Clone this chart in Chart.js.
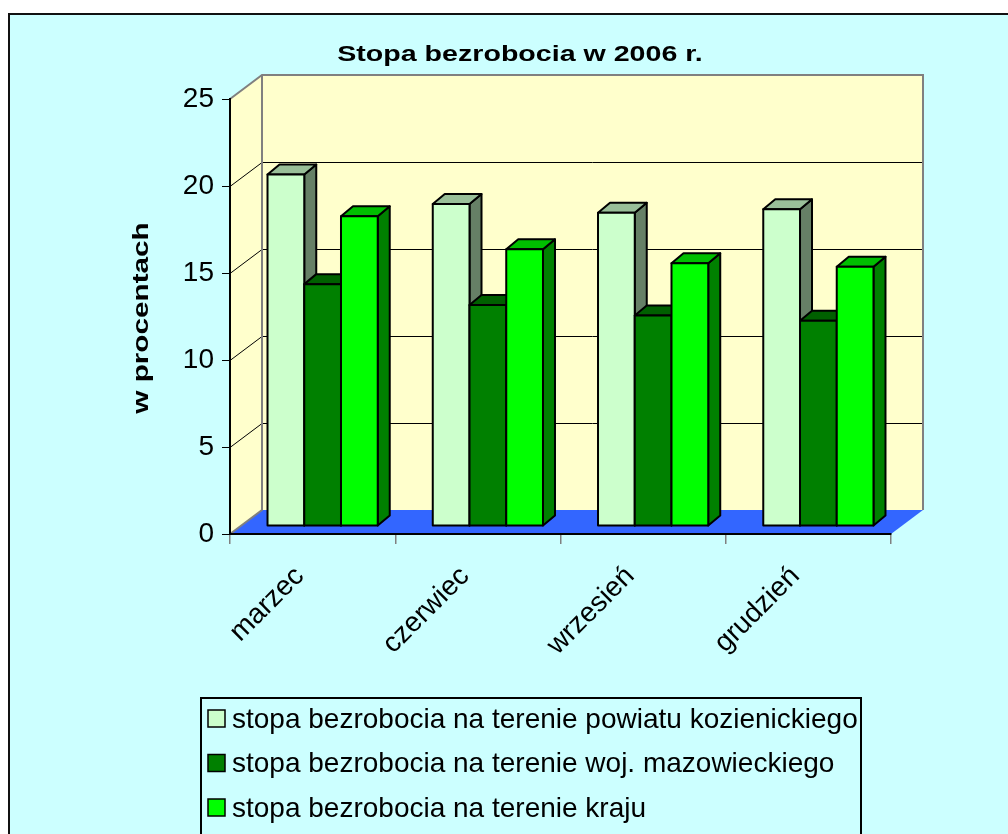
<!DOCTYPE html>
<html>
<head>
<meta charset="utf-8">
<script src="https://cdn.jsdelivr.net/npm/chart.js@4.4.1/dist/chart.umd.min.js"></script>
<style>
  html, body { margin: 0; padding: 0; background: #fff; }
  canvas { display: block; }
</style>
</head>
<body>
<canvas id="chart" width="1008" height="834"></canvas>
<script>
// data
const months = ['marzec', 'czerwiec', 'wrzesień', 'grudzień']
const powiat = [20.2, 18.5, 18.0, 18.2]
const wojewodztwo = [13.9, 12.7, 12.1, 11.8]
const kraj = [17.8, 15.9, 15.1, 14.9]
const yTicks = [0, 5, 10, 15, 20, 25]
const seriesNames = [
  'stopa bezrobocia na terenie powiatu kozienickiego',
  'stopa bezrobocia na terenie woj. mazowieckiego',
  'stopa bezrobocia na terenie kraju',
]
const seriesColors = ['#CCFFCC', '#008000', '#00FF00']
const chartTitle = 'Stopa bezrobocia w 2006 r.'
const yTitle = 'w procentach'

const FONT = '"Liberation Sans", Arial, sans-serif'

// 3d look
const DEPTH = { x: 32, y: -24 }      // floor / wall depth
const BAR_OFF = { x: 10, y: -8 }     // where the bar fronts sit
const BAR_DEPTH = { x: 12, y: -10 }  // bar thickness

const shade = (hex, f) => {
  const n = parseInt(hex.slice(1), 16)
  const r = Math.round(((n >> 16) & 255) * f)
  const g = Math.round(((n >> 8) & 255) * f)
  const b = Math.round((n & 255) * f)
  return `rgb(${r},${g},${b})`
}

const poly = (ctx, pts) => {
  ctx.beginPath()
  ctx.moveTo(pts[0][0], pts[0][1])
  for (let i = 1; i < pts.length; i++) ctx.lineTo(pts[i][0], pts[i][1])
  ctx.closePath()
}

// bold texts in the original are drawn a bit wider than normal
const wideText = (ctx, text, x, y, rot, stretch) => {
  ctx.save()
  ctx.translate(x, y)
  ctx.rotate(rot)
  ctx.scale(stretch, 1)
  ctx.fillText(text, 0, 0)
  ctx.restore()
}

const scene3d = {
  id: 'scene3d',
  beforeDraw(chart) {
    const ctx = chart.ctx
    const { left, right, top, bottom } = chart.chartArea
    const dx = DEPTH.x, dy = DEPTH.y
    ctx.save()
    // page + chart frame
    ctx.fillStyle = '#ffffff'
    ctx.fillRect(0, 0, chart.width, chart.height)
    ctx.fillStyle = '#CCFFFF'
    ctx.fillRect(8, 13, chart.width, chart.height)
    ctx.strokeStyle = '#111'
    ctx.lineWidth = 2
    ctx.beginPath()
    ctx.moveTo(9, chart.height)
    ctx.lineTo(9, 14)
    ctx.lineTo(chart.width, 14)
    ctx.stroke()

    // walls
    ctx.fillStyle = '#FFFFCC'
    ctx.fillRect(left + dx, top + dy, right - left, bottom - top)
    poly(ctx, [[left, top], [left + dx, top + dy], [left + dx, bottom + dy], [left, bottom]])
    ctx.fill()

    // gridlines on the walls
    const ys = chart.scales.y
    ctx.strokeStyle = '#000'
    ctx.lineWidth = 1
    yTicks.forEach(v => {
      if (v === yTicks[0] || v === yTicks[yTicks.length - 1]) return
      const py = Math.round(ys.getPixelForValue(v)) + 0.5
      ctx.beginPath()
      ctx.moveTo(left, py)
      ctx.lineTo(left + dx, py + dy)
      ctx.lineTo(right + dx, py + dy)
      ctx.stroke()
    })

    // floor
    ctx.fillStyle = '#3366FF'
    poly(ctx, [[left, bottom], [right, bottom], [right + dx, bottom + dy], [left + dx, bottom + dy]])
    ctx.fill()

    // wall edges
    ctx.strokeStyle = '#808080'
    ctx.lineWidth = 2
    ctx.beginPath()
    ctx.moveTo(left, top)
    ctx.lineTo(left + dx, top + dy)
    ctx.lineTo(right + dx, top + dy)
    ctx.lineTo(right + dx, bottom + dy)
    ctx.moveTo(left + dx, top + dy)
    ctx.lineTo(left + dx, bottom + dy)
    ctx.lineTo(left, bottom)
    ctx.stroke()
    ctx.restore()
  },
  beforeDatasetsDraw(chart) {
    const ctx = chart.ctx
    const bx = BAR_DEPTH.x, by = BAR_DEPTH.y
    ctx.save()
    ctx.strokeStyle = '#000'
    ctx.lineWidth = 2
    ctx.lineJoin = 'round'
    for (let i = 0; i < months.length; i++) {
      chart.data.datasets.forEach((ds, d) => {
        const el = chart.getDatasetMeta(d).data[i]
        const p = el.getProps(['x', 'y', 'base', 'width'], true)
        const l = p.x - p.width / 2 + BAR_OFF.x
        const r = l + p.width
        const t = p.y + BAR_OFF.y
        const b = p.base + BAR_OFF.y
        const col = seriesColors[d]
        // side
        poly(ctx, [[r, t], [r + bx, t + by], [r + bx, b + by], [r, b]])
        ctx.fillStyle = shade(col, 0.5)
        ctx.fill(); ctx.stroke()
        // top
        poly(ctx, [[l, t], [l + bx, t + by], [r + bx, t + by], [r, t]])
        ctx.fillStyle = shade(col, 0.75)
        ctx.fill(); ctx.stroke()
        // front
        ctx.fillStyle = col
        ctx.fillRect(l, t, p.width, b - t)
        ctx.strokeRect(l, t, p.width, b - t)
      })
    }
    ctx.restore()
    return false
  },
  afterDraw(chart) {
    const ctx = chart.ctx
    ctx.save()
    ctx.fillStyle = '#000'
    ctx.textAlign = 'center'
    ctx.textBaseline = 'middle'
    // title
    ctx.font = `bold 22px ${FONT}`
    wideText(ctx, chartTitle, 520, 55, 0, 1.3)
    // y title
    wideText(ctx, yTitle, 142, 318, -Math.PI / 2, 1.35)

    // legend
    ctx.strokeStyle = '#000'
    ctx.lineWidth = 2
    ctx.beginPath()
    ctx.moveTo(201, chart.height + 5)
    ctx.lineTo(201, 698)
    ctx.lineTo(861, 698)
    ctx.lineTo(861, chart.height + 5)
    ctx.stroke()
    ctx.font = `28px ${FONT}`
    ctx.textAlign = 'left'
    seriesNames.forEach((name, k) => {
      const cy = 719 + k * 44.5
      ctx.fillStyle = seriesColors[k]
      ctx.fillRect(208, cy - 9, 17, 17)
      ctx.lineWidth = 1.5
      ctx.strokeRect(208, cy - 9, 17, 17)
      ctx.fillStyle = '#000'
      ctx.fillText(name, 232, cy + 1)
    })
    ctx.restore()
  },
}

new Chart(document.getElementById('chart'), {
  type: 'bar',
  data: {
    labels: months,
    datasets: [
      { label: seriesNames[0], data: powiat, backgroundColor: seriesColors[0] },
      { label: seriesNames[1], data: wojewodztwo, backgroundColor: seriesColors[1] },
      { label: seriesNames[2], data: kraj, backgroundColor: seriesColors[2] },
    ],
  },
  options: {
    responsive: false,
    animation: false,
    events: [],
    layout: { padding: { top: 99, right: 117, left: 0, bottom: 0 } },
    datasets: { bar: { categoryPercentage: 0.667, barPercentage: 1.0 } },
    plugins: {
      legend: { display: false },
      title: { display: false },
      tooltip: { enabled: false },
    },
    scales: {
      x: {
        grid: { display: true, drawOnChartArea: false, offset: true, tickLength: 10, color: '#808080', lineWidth: 1.5 },
        border: { display: true, color: '#000', width: 2 },
        ticks: {
          autoSkip: false,
          minRotation: 45,
          maxRotation: 45,
          padding: 16,
          labelOffset: -13,
          color: '#000',
          font: { family: FONT, size: 28 },
        },
        afterFit: (scale) => { scale.height = 300 },
      },
      y: {
        min: 0,
        max: 25,
        afterBuildTicks: (scale) => { scale.ticks = yTicks.map(v => ({ value: v })) },
        grid: { display: true, drawOnChartArea: false, tickLength: 8, color: '#000', lineWidth: 1 },
        border: { display: true, color: '#000', width: 2 },
        ticks: { padding: 8, color: '#000', font: { family: FONT, size: 28 } },
        afterFit: (scale) => { scale.width = 230 },
      },
    },
  },
  plugins: [scene3d],
})
</script>
</body>
</html>
